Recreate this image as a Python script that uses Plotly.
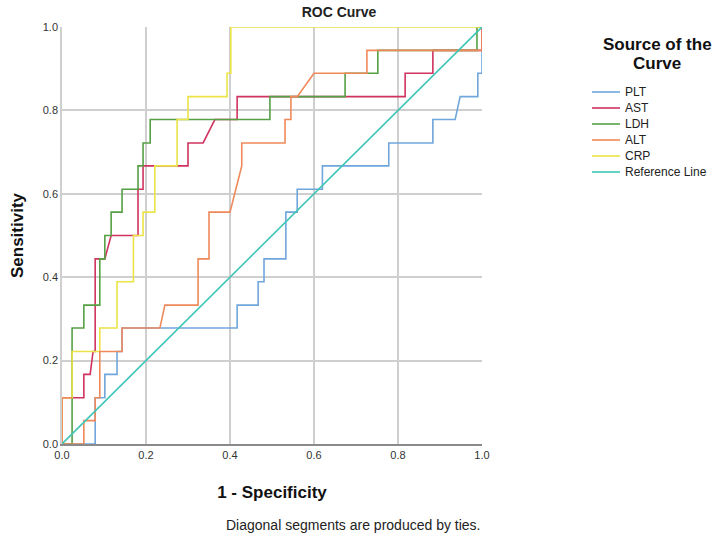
import plotly.graph_objects as go

# ---- data (vertices of the step ROC curves) ----
plt_x = [0, 0.079, 0.079, 0.102, 0.102, 0.131, 0.131, 0.143, 0.143, 0.417, 0.417, 0.467, 0.467, 0.481, 0.481, 0.533, 0.533, 0.56, 0.56, 0.62, 0.62, 0.778, 0.778, 0.883, 0.883, 0.936, 0.948, 0.99, 0.99, 1, 1]
plt_y = [0, 0, 0.111, 0.111, 0.167, 0.167, 0.222, 0.222, 0.278, 0.278, 0.333, 0.333, 0.389, 0.389, 0.444, 0.444, 0.556, 0.556, 0.611, 0.611, 0.667, 0.667, 0.722, 0.722, 0.778, 0.778, 0.833, 0.833, 0.889, 0.889, 1]

ast_x = [0, 0, 0.052, 0.052, 0.067, 0.074, 0.079, 0.079, 0.102, 0.117, 0.181, 0.181, 0.193, 0.193, 0.3, 0.3, 0.336, 0.364, 0.417, 0.417, 0.817, 0.817, 0.883, 0.883, 1, 1]
ast_y = [0, 0.111, 0.111, 0.167, 0.167, 0.222, 0.222, 0.444, 0.444, 0.5, 0.5, 0.611, 0.611, 0.667, 0.667, 0.722, 0.722, 0.778, 0.778, 0.833, 0.833, 0.889, 0.889, 0.944, 0.944, 1]

ldh_x = [0, 0.024, 0.024, 0.052, 0.052, 0.09, 0.09, 0.102, 0.102, 0.117, 0.117, 0.143, 0.143, 0.181, 0.181, 0.193, 0.193, 0.21, 0.21, 0.495, 0.495, 0.674, 0.674, 0.752, 0.752, 0.988, 0.988, 1]
ldh_y = [0, 0, 0.278, 0.278, 0.333, 0.333, 0.444, 0.444, 0.5, 0.5, 0.556, 0.556, 0.611, 0.611, 0.667, 0.667, 0.722, 0.722, 0.778, 0.778, 0.833, 0.833, 0.889, 0.889, 0.944, 0.944, 1, 1]

alt_x = [0.024, 0, 0, 0.052, 0.052, 0.079, 0.079, 0.09, 0.09, 0.143, 0.143, 0.233, 0.245, 0.324, 0.324, 0.35, 0.35, 0.4, 0.428, 0.428, 0.531, 0.531, 0.545, 0.545, 0.56, 0.6, 0.726, 0.726, 1, 1]
alt_y = [0.111, 0.111, 0, 0, 0.056, 0.056, 0.111, 0.111, 0.222, 0.222, 0.278, 0.278, 0.333, 0.333, 0.444, 0.444, 0.556, 0.556, 0.667, 0.722, 0.722, 0.778, 0.778, 0.833, 0.833, 0.889, 0.889, 0.944, 0.944, 1]

crp_x = [0, 0, 0.024, 0.024, 0.09, 0.09, 0.131, 0.131, 0.17, 0.17, 0.193, 0.193, 0.221, 0.221, 0.274, 0.274, 0.3, 0.3, 0.393, 0.393, 0.402, 0.402, 1]
crp_y = [0, 0.111, 0.111, 0.222, 0.222, 0.278, 0.278, 0.389, 0.389, 0.5, 0.5, 0.556, 0.556, 0.667, 0.667, 0.778, 0.778, 0.833, 0.833, 0.889, 0.889, 1, 1]

ref_x = [0, 1]
ref_y = [0, 1]

tick_vals = [0, 0.2, 0.4, 0.6, 0.8, 1.0]
tick_text = ["0.0", "0.2", "0.4", "0.6", "0.8", "1.0"]

series = [
    ("PLT", plt_x, plt_y, "#6fa6dc"),
    ("AST", ast_x, ast_y, "#d0335f"),
    ("LDH", ldh_x, ldh_y, "#55a045"),
    ("ALT", alt_x, alt_y, "#f0895a"),
    ("CRP", crp_x, crp_y, "#ece447"),
    ("Reference Line", ref_x, ref_y, "#3fc6b6"),
]
draw_order = ["PLT", "AST", "LDH", "CRP", "ALT", "Reference Line"]

FONT = "Liberation Sans, Arial, sans-serif"

fig = go.Figure()
lookup = {s[0]: s for s in series}
for key in draw_order:
    name, xs, ys, col = lookup[key]
    fig.add_trace(go.Scatter(x=xs, y=ys, mode="lines", name=name,
                             line=dict(color=col, width=1.6), showlegend=False))

# plot area in pixels: x 62..482, y 27..444
L, R, T, B = 62, 482, 27, 444
W, H = 725, 537

def px(xp):
    return (xp - L) / (R - L)

def py(yp):
    return (B - yp) / (B - T)

fig.update_layout(
    width=W, height=H,
    margin=dict(l=L, r=W - R, t=T, b=H - B, autoexpand=False),
    paper_bgcolor="white", plot_bgcolor="white",
    font=dict(family=FONT, size=11, color="#333333"),
    title=dict(text="<b>ROC Curve</b>", x=339 / W, xanchor="center",
               y=1 - 12 / H, yanchor="middle", font=dict(size=14, color="#222222")),
    xaxis=dict(range=[0, 1], tickvals=tick_vals, ticktext=tick_text, automargin=False,
               showgrid=True, gridcolor="#cfcfcf", gridwidth=1.5,
               showline=True, linecolor="#8a8a8a", linewidth=1.5,
               zeroline=False, ticks="", ticklen=0,
               title=dict(text="<b>1 - Specificity</b>", font=dict(size=17, color="#111111"), standoff=26)),
    yaxis=dict(range=[0, 1], tickvals=tick_vals, ticktext=tick_text, automargin=False,
               showgrid=True, gridcolor="#cfcfcf", gridwidth=1.5,
               showline=True, linecolor="#cfcfcf", linewidth=1.5,
               zeroline=False, ticks="",
               title=dict(text="<b>Sensitivity</b>", font=dict(size=17, color="#111111"), standoff=15)),
)

# legend (drawn manually to match compact spacing)
for txt, ty in [("<b>Source of the</b>", 45), ("<b>Curve</b>", 63)]:
    fig.add_annotation(text=txt, xref="paper", yref="paper",
                       x=px(657), y=py(ty), xanchor="center", yanchor="middle", showarrow=False,
                       font=dict(size=17, color="#111111", family=FONT))
rows = [92, 108, 124, 140, 156, 172]
for (name, xs, ys, col), ry in zip(series, rows):
    fig.add_shape(type="line", xref="paper", yref="paper",
                  x0=px(592), x1=px(620), y0=py(ry), y1=py(ry),
                  line=dict(color=col, width=1.6))
    fig.add_annotation(text=name, xref="paper", yref="paper", x=px(623), y=py(ry),
                       xanchor="left", yanchor="middle", showarrow=False,
                       font=dict(size=12, color="#222222", family=FONT))

fig.add_annotation(text="Diagonal segments are produced by ties.", xref="paper", yref="paper",
                   x=px(353), y=py(525), xanchor="center", yanchor="middle", showarrow=False,
                   font=dict(size=14, color="#222222", family=FONT))

fig.write_html("out.html", config={"displayModeBar": False},
               post_script="document.body.style.margin='0';document.body.style.padding='0';document.body.style.overflow='hidden';")
